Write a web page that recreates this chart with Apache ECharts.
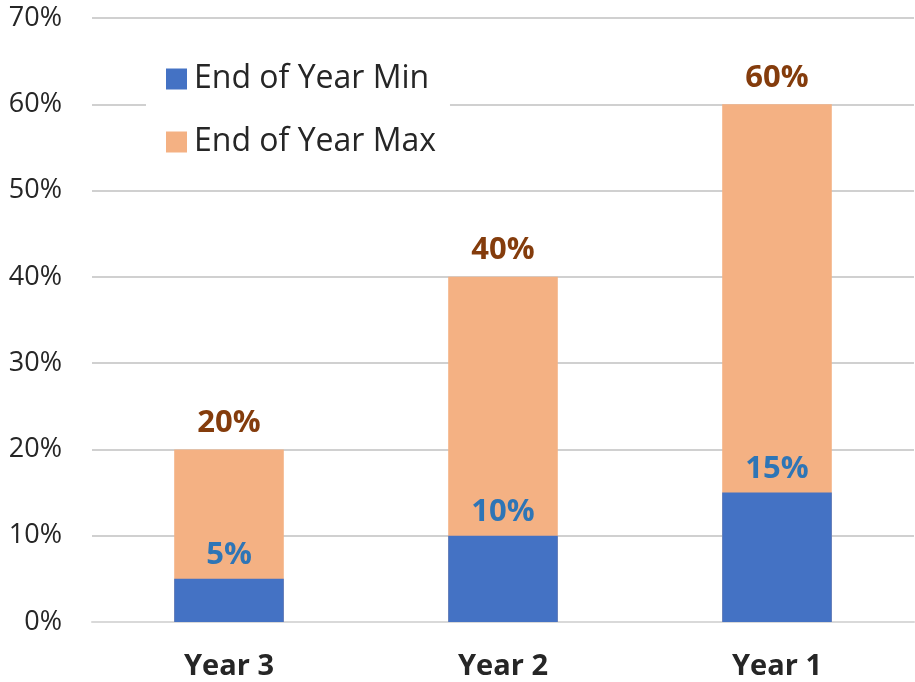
<!DOCTYPE html>
<html>
<head>
<meta charset="utf-8">
<script src="https://cdn.jsdelivr.net/npm/echarts@6/dist/echarts.min.js"></script>
<style>
  html, body { margin: 0; padding: 0; background: #fff; }
  #main { width: 915px; height: 682px; }
</style>
</head>
<body>
<div id="main"></div>
<script>
var years = ['Year 3', 'Year 2', 'Year 1'];
var minVals = [5, 10, 15];
var maxVals = [20, 40, 60];
var yTicks = [0, 10, 20, 30, 40, 50, 60, 70];

var chart = echarts.init(document.getElementById('main'));
var font = 'Open Sans';

var option = {
  animation: false,
  textStyle: { fontFamily: font },
  grid: { left: 92, right: 1, top: 18, bottom: 60, containLabel: false },
  legend: {
    orient: 'vertical',
    left: 146,
    top: 57,
    itemWidth: 21,
    itemHeight: 21,
    itemGap: 31,
    backgroundColor: '#fff',
    padding: [6, 14, 6, 20],
    textStyle: { fontSize: 32, color: '#262626', fontFamily: font, padding: [0, 0, 0, 2] },
    data: [
      { name: 'End of Year Min', icon: 'rect' },
      { name: 'End of Year Max', icon: 'rect' }
    ]
  },
  xAxis: {
    type: 'category',
    data: years,
    axisLine: { lineStyle: { color: '#d9d9d9', width: 2 } },
    axisTick: { show: false },
    axisLabel: { fontSize: 29, fontWeight: 'bold', color: '#262626', margin: 30 }
  },
  yAxis: {
    type: 'value',
    min: yTicks[0],
    max: yTicks[yTicks.length - 1],
    interval: 10,
    axisLine: { show: false },
    axisTick: { show: false },
    splitLine: { lineStyle: { color: '#d0d0d0', width: 2 } },
    axisLabel: {
      fontSize: 27, color: '#262626', margin: 30,
      formatter: function (v) { return v + '%'; }
    }
  },
  series: [
    {
      name: 'End of Year Min',
      type: 'bar',
      data: minVals,
      barWidth: '40%',
      barGap: '-100%',
      z: 3,
      itemStyle: { color: '#4472C4' },
      label: {
        show: true, position: 'top', distance: 8,
        fontSize: 31, fontWeight: 'bold', color: '#2E75B6',
        formatter: '{c}%'
      }
    },
    {
      name: 'End of Year Max',
      type: 'bar',
      data: maxVals,
      barWidth: '40%',
      z: 2,
      itemStyle: { color: '#F4B183' },
      label: {
        show: true, position: 'top', distance: 11,
        fontSize: 31, fontWeight: 'bold', color: '#843C0C',
        formatter: '{c}%'
      }
    }
  ]
};

chart.setOption(option);
</script>
</body>
</html>
